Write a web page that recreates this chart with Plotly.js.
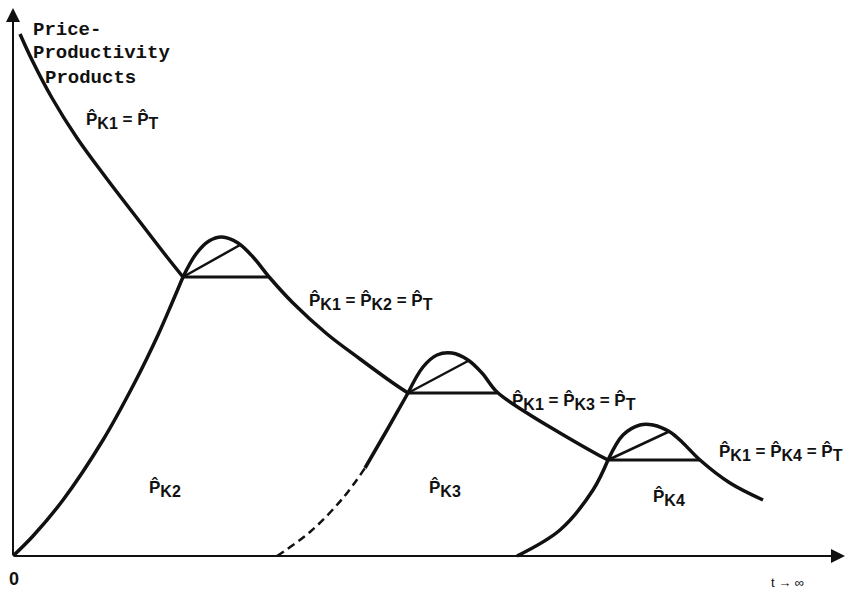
<!DOCTYPE html>
<html>
<head>
<meta charset="utf-8">
<script src="https://cdn.plot.ly/plotly-3.0.1.min.js"></script>
<style>
  html, body { margin: 0; padding: 0; background: #ffffff; }
  #chart { width: 851px; height: 592px; }
</style>
</head>
<body>
<div id="chart"></div>
<script>
// Price-productivity products over time (schematic, arbitrary units)

// P_K1 = P_T : falling curve up to the first crossing
const k1X = [7, 19, 39, 64, 94, 127, 154, 170];
const k1Y = [522, 496, 458, 418, 377, 334, 299, 279];

// hump after the entry of K2, then the common falling path
const hump2X = [170, 183, 196, 209, 225, 240, 257, 280, 314, 347, 380, 395];
const hump2Y = [279, 302, 315, 319, 313, 299, 278, 253, 222, 197, 173, 163];

// hump after the entry of K3
const hump3X = [395, 410, 424, 439, 455, 469, 484, 514, 547, 580, 595];
const hump3Y = [163, 189, 201, 203, 196, 183, 164, 143, 123, 104, 96];

// hump after the entry of K4
const hump4X = [595, 610, 627, 640, 657, 670, 687, 717, 750];
const hump4Y = [96, 121, 131, 131, 124, 113, 96, 73, 56];

// rising curves of the newcomers
const k2X = [0, 20, 50, 90, 122, 145, 159, 170];
const k2Y = [0, 20, 56, 116, 174, 221, 253, 279];
const k3DashX = [264, 297, 330, 352];
const k3DashY = [0, 24, 58, 88];
const k3X = [352, 374, 395];
const k3Y = [88, 126, 163];
const k4X = [504, 547, 580, 595];
const k4Y = [0, 26, 66, 96];

// equality levels (start, end, level) and chords inside each hump
const levelStart = [170, 395, 595];
const levelEnd = [257, 484, 687];
const levelY = [279, 163, 96];
const chordEndX = [227, 455, 655];
const chordEndY = [311, 195, 124];

// axis extents
const xAxisEnd = 832;
const yAxisEnd = 548;

const INK = '#111111';
const traces = [];
function curve(x, y, width, dash) {
  traces.push({
    x: x, y: y, mode: 'lines', type: 'scatter', hoverinfo: 'skip',
    line: { color: INK, width: width, shape: 'spline', smoothing: 1, dash: dash || 'solid' }
  });
}
curve(k1X, k1Y, 3.5);
curve(hump2X, hump2Y, 3.5);
curve(hump3X, hump3Y, 3.5);
curve(hump4X, hump4Y, 3.5);
curve(k2X, k2Y, 3.5);
curve(k3DashX, k3DashY, 2.5, '8px,5px');
curve(k3X, k3Y, 3.5);
curve(k4X, k4Y, 3.5);
for (let i = 0; i < levelY.length; i++) {
  traces.push({
    x: [levelStart[i], levelEnd[i]], y: [levelY[i], levelY[i]],
    mode: 'lines', type: 'scatter', hoverinfo: 'skip',
    line: { color: INK, width: 3 }
  });
  traces.push({
    x: [levelStart[i], chordEndX[i]], y: [levelY[i], chordEndY[i]],
    mode: 'lines', type: 'scatter', hoverinfo: 'skip',
    line: { color: INK, width: 2.5 }
  });
}

const hatP = 'P\u0302';
function sub(s) { return '<sub><span style="font-size:16px">' + s + '</span></sub>'; }
const eq = ' = ';

const labelFont = { family: 'Liberation Sans, Arial, sans-serif', size: 17, color: INK, weight: 'bold' };
const monoFont = { family: 'Liberation Mono, Courier New, monospace', size: 19, color: INK, weight: 'bold' };

function label(x, y, text, font) {
  return { x: x, y: y, xref: 'x', yref: 'y', text: text, showarrow: false,
           xanchor: 'left', yanchor: 'middle', font: font };
}

const annotations = [
  // axes with arrow heads
  { x: 0, y: yAxisEnd, ax: 0, ay: 0, xref: 'x', yref: 'y', axref: 'x', ayref: 'y',
    text: '', showarrow: true, arrowhead: 2, arrowsize: 1.4, arrowwidth: 2, arrowcolor: INK, standoff: 0 },
  { x: xAxisEnd, y: 0, ax: 0, ay: 0, xref: 'x', yref: 'y', axref: 'x', ayref: 'y',
    text: '', showarrow: true, arrowhead: 2, arrowsize: 1.4, arrowwidth: 2, arrowcolor: INK, standoff: 0 },

  label(18, 526, 'Price-', monoFont),
  label(18, 503, 'Productivity', monoFont),
  label(30, 478, 'Products', monoFont),

  label(71, 436, hatP + sub('K1') + eq + hatP + sub('T'), labelFont),
  label(294, 255, hatP + sub('K1') + eq + hatP + sub('K2') + eq + hatP + sub('T'), labelFont),
  label(497, 155, hatP + sub('K1') + eq + hatP + sub('K3') + eq + hatP + sub('T'), labelFont),
  label(704, 104, hatP + sub('K1') + eq + hatP + sub('K4') + eq + hatP + sub('T'), labelFont),

  label(134, 68, hatP + sub('K2'), labelFont),
  label(414, 68, hatP + sub('K3'), labelFont),
  label(638, 59, hatP + sub('K4'), labelFont),

  // labels below the time axis
  { x: 1, y: -0.03, xref: 'x', yref: 'paper', text: '0', showarrow: false,
    xanchor: 'center', yanchor: 'middle', font: { family: 'Liberation Sans, Arial, sans-serif', size: 18, color: INK, weight: 'bold' } },
  { x: 774, y: -0.037, xref: 'x', yref: 'paper', text: 't \u2192 \u221e', showarrow: false,
    xanchor: 'center', yanchor: 'middle', font: { family: 'Liberation Sans, Arial, sans-serif', size: 13, color: INK } }
];

const layout = {
  width: 851, height: 592,
  margin: { l: 5, r: 2, t: 2, b: 30, pad: 0 },
  paper_bgcolor: '#ffffff', plot_bgcolor: '#ffffff',
  showlegend: false,
  xaxis: { range: [-8, 836], visible: false, fixedrange: true },
  yaxis: { range: [-6, 554], visible: false, fixedrange: true },
  annotations: annotations
};

Plotly.newPlot('chart', traces, layout, { staticPlot: true, displayModeBar: false });
</script>
</body>
</html>
